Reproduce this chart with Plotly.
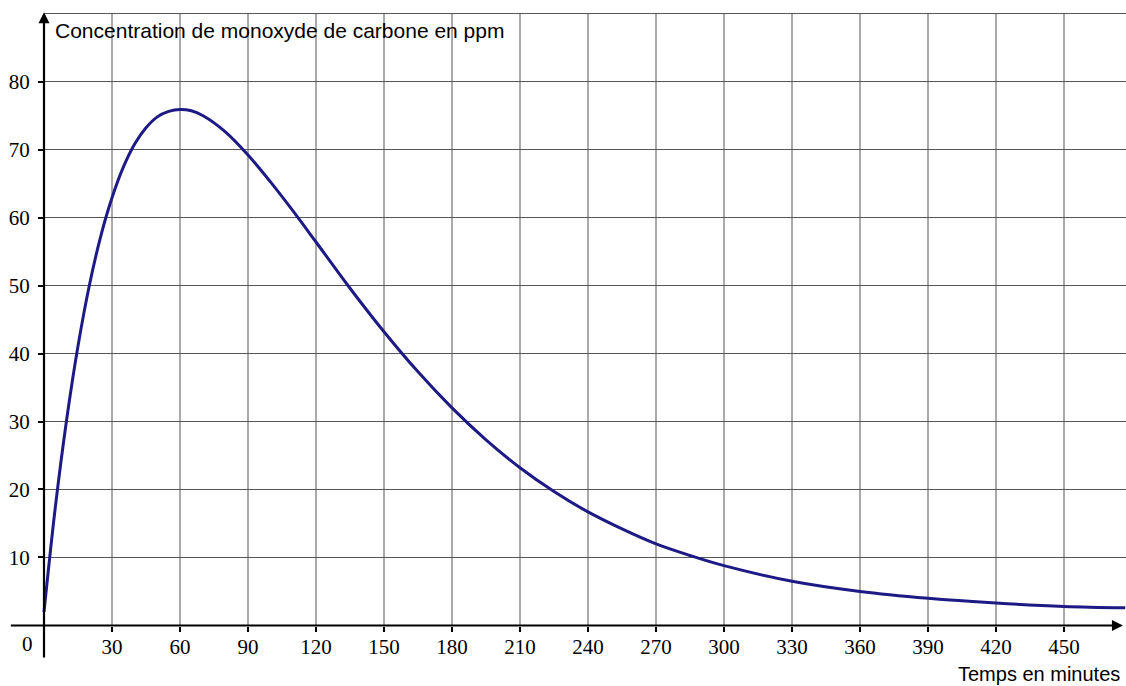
import plotly.graph_objects as go

# Data
temps = [0, 5, 10, 15, 20, 25, 30, 35, 40, 45, 50, 55, 60, 65, 70, 80, 90, 100, 110, 120,
         135, 150, 165, 180, 195, 210, 225, 240, 255, 270, 285, 300, 330, 360, 390, 420,
         450, 477]
concentration = [2.0, 17.4, 30.3, 41.1, 50.0, 57.2, 62.9, 67.4, 70.8, 73.2, 74.8, 75.6,
                 75.9, 75.7, 75.0, 72.6, 69.2, 65.2, 60.9, 56.4, 49.6, 43.2, 37.3, 32.0,
                 27.3, 23.2, 19.7, 16.7, 14.2, 12.0, 10.3, 8.8, 6.5, 5.0, 4.0, 3.3, 2.8, 2.6]

x_ticks = [30, 60, 90, 120, 150, 180, 210, 240, 270, 300, 330, 360, 390, 420, 450]
y_ticks = [10, 20, 30, 40, 50, 60, 70, 80]
x_grid = x_ticks
y_grid = [10, 20, 30, 40, 50, 60, 70, 80, 90]

y_title = "Concentration de monoxyde de carbone en ppm"
x_title = "Temps en minutes"

W, H = 1126, 686
X_MIN, X_MAX = -19.41, 477.35
Y_MIN, Y_MAX = -8.9, 91.99
Y_TOP = 90

fig = go.Figure()

shapes = []
for gx in x_grid:
    shapes.append(dict(type="line", xref="x", yref="y", x0=gx, x1=gx, y0=0, y1=Y_TOP,
                       line=dict(color="#555555", width=1), layer="below"))
for gy in y_grid:
    shapes.append(dict(type="line", xref="x", yref="y", x0=0, x1=X_MAX, y0=gy, y1=gy,
                       line=dict(color="#555555", width=1), layer="below"))

fig.add_trace(go.Scatter(
    x=temps, y=concentration, mode="lines",
    line=dict(color="#1e1a85", width=3, shape="spline", smoothing=1.0),
    hoverinfo="x+y", showlegend=False,
))

annotations = [
    # x axis with arrow
    dict(x=476.0, y=0, ax=-15.3, ay=0, xref="x", yref="y", axref="x", ayref="y",
         text="", showarrow=True, arrowhead=2, arrowsize=1, arrowwidth=2.2,
         arrowcolor="black"),
    # y axis with arrow
    dict(x=0, y=90.2, ax=0, ay=-4.93, xref="x", yref="y", axref="x", ayref="y",
         text="", showarrow=True, arrowhead=2, arrowsize=1, arrowwidth=2.2,
         arrowcolor="black"),
    dict(x=53 / W, y=1 - 31 / H, xref="paper", yref="paper", text=y_title,
         showarrow=False, xanchor="left", yanchor="middle",
         font=dict(family="Liberation Sans", size=21, color="black")),
    dict(x=1121 / W, y=0.5 / H, xref="paper", yref="paper", text=x_title,
         showarrow=False, xanchor="right", yanchor="bottom", borderpad=0,
         font=dict(family="Liberation Sans", size=20, color="black")),
    dict(x=27.5 / W, y=1 - 644 / H, xref="paper", yref="paper", text="0",
         showarrow=False, xanchor="center", yanchor="middle",
         font=dict(family="Liberation Serif", size=21, color="black")),
]

fig.update_layout(
    width=W, height=H,
    margin=dict(l=0, r=0, t=0, b=0),
    paper_bgcolor="white", plot_bgcolor="white",
    shapes=shapes, annotations=annotations,
    xaxis=dict(range=[X_MIN, X_MAX], showgrid=False, zeroline=False, showline=False,
               anchor="free", position=(H - 625.5) / H, automargin=False,
               tickmode="array", tickvals=x_ticks, ticktext=[str(v) for v in x_ticks],
               ticks="outside", ticklen=5, tickwidth=1.5, tickcolor="black",
               ticklabelstandoff=-3,
               tickfont=dict(family="Liberation Serif", size=21, color="black")),
    yaxis=dict(range=[Y_MIN, Y_MAX], showgrid=False, zeroline=False, showline=False,
               anchor="free", position=44 / W, automargin=False,
               tickmode="array", tickvals=y_ticks, ticktext=[str(v) for v in y_ticks],
               ticks="outside", ticklen=6, tickwidth=1.5, tickcolor="black",
               ticklabelstandoff=4,
               tickfont=dict(family="Liberation Serif", size=21, color="black")),
)

fig.write_html("out.html", config={"displayModeBar": False},
               post_script="document.body.style.margin='0';document.body.style.padding='0';")
